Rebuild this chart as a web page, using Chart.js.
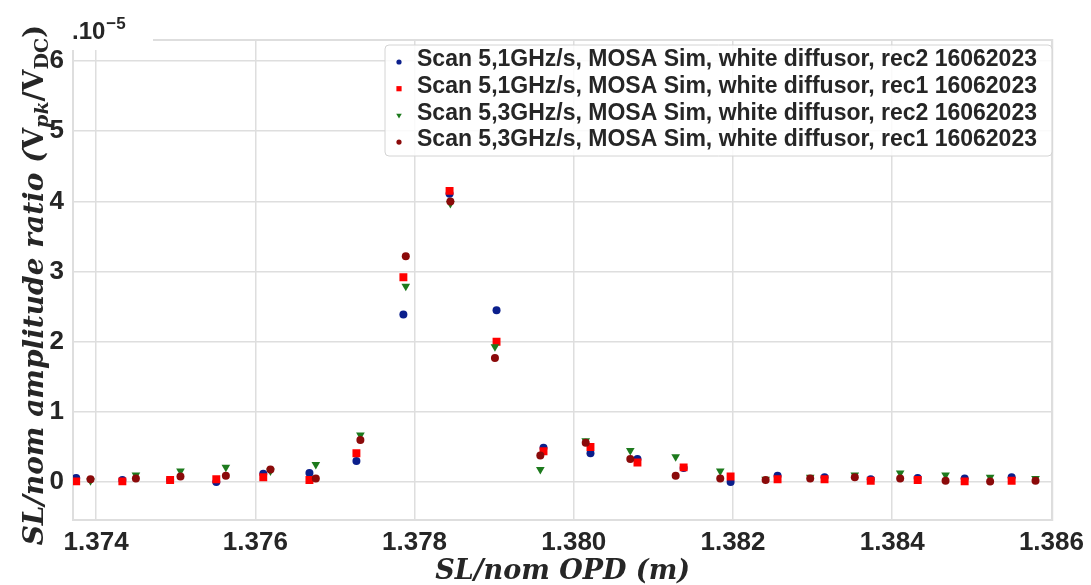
<!DOCTYPE html>
<html>
<head>
<meta charset="utf-8">
<script src="https://cdn.jsdelivr.net/npm/chart.js@4"></script>
<style>
  html, body { margin: 0; padding: 0; background: #fff; }
  canvas { display: block; }
</style>
</head>
<body>
<canvas id="chart" width="1091" height="585"></canvas>
<script>
// OPD positions (m) for the two scan speeds
const opd51 = [1.37375, 1.37433, 1.37493, 1.37551, 1.37610, 1.37668, 1.37727, 1.37786, 1.37844, 1.37903, 1.37962,
               1.38021, 1.38080, 1.38138, 1.38197, 1.38256, 1.38315, 1.38373, 1.38432, 1.38491, 1.38550];
const opd53 = [1.37393, 1.37450, 1.37506, 1.37563, 1.37619, 1.37676, 1.37732, 1.37789, 1.37845, 1.37901, 1.37958,
               1.38015, 1.38071, 1.38128, 1.38184, 1.38241, 1.38297, 1.38353, 1.38410, 1.38467, 1.38523, 1.38580];

// amplitude ratio, in units of 1e-5
const rec2_51 = [0.06, 0.03, 0.03, 0.00, 0.12, 0.13, 0.30, 2.39, 4.11, 2.45, 0.49,
                 0.41, 0.33, 0.20, 0.00, 0.09, 0.07, 0.04, 0.06, 0.05, 0.07];
const rec1_51 = [0.01, 0.01, 0.03, 0.04, 0.07, 0.03, 0.41, 2.92, 4.15, 2.00, 0.44,
                 0.50, 0.28, 0.21, 0.08, 0.04, 0.04, 0.02, 0.03, 0.01, 0.02];
const rec2_53 = [0.02, 0.10, 0.16, 0.21, 0.16, 0.25, 0.67, 2.79, 3.97, 1.93, 0.18,
                 0.59, 0.45, 0.36, 0.16, 0.04, 0.07, 0.10, 0.13, 0.10, 0.07, 0.05];
const rec1_53 = [0.04, 0.05, 0.08, 0.09, 0.18, 0.05, 0.60, 3.22, 4.00, 1.77, 0.38,
                 0.56, 0.33, 0.09, 0.05, 0.03, 0.05, 0.07, 0.05, 0.02, 0.01, 0.02];

const seriesLabels = [
  'Scan 5,1GHz/s, MOSA Sim, white diffusor, rec2 16062023',
  'Scan 5,1GHz/s, MOSA Sim, white diffusor, rec1 16062023',
  'Scan 5,3GHz/s, MOSA Sim, white diffusor, rec2 16062023',
  'Scan 5,3GHz/s, MOSA Sim, white diffusor, rec1 16062023'
];
const xTicks = [1.374, 1.376, 1.378, 1.380, 1.382, 1.384, 1.386];
const yTicks = [0, 1, 2, 3, 4, 5, 6];
const xTitle = 'SL/nom OPD (m)';
const yTitle = [['SL/nom amplitude ratio (', 'main', true], ['V', 'main', false], ['pk', 'sub', true],
                ['/V', 'main', false], ['DC', 'sub', false], [')', 'main', false]];
const scaleNote = ['.10', '\u22125'];

const textColor = '#262626';
const gridColor = '#dedede';

function toPoints(xs, ys) {
  return xs.map((x, i) => ({ x: x, y: ys[i] }));
}

const series = [
  { data: toPoints(opd51, rec2_51), color: '#0b1f8c', style: 'circle', radius: 4, rotation: 0, order: 4 },
  { data: toPoints(opd51, rec1_51), color: '#ff0000', style: 'rect', radius: 5.6, rotation: 0, order: 3 },
  { data: toPoints(opd53, rec2_53), color: '#1d7a1d', style: 'triangle', radius: 5, rotation: 180, order: 2 },
  { data: toPoints(opd53, rec1_53), color: '#8b0a0a', style: 'circle', radius: 4, rotation: 0, order: 1 }
];

function drawMarker(ctx, s, x, y, r) {
  ctx.fillStyle = s.color;
  ctx.beginPath();
  if (s.style === 'circle') {
    ctx.arc(x, y, r, 0, Math.PI * 2);
  } else if (s.style === 'rect') {
    ctx.rect(x - r, y - r, 2 * r, 2 * r);
  } else {
    ctx.moveTo(x, y + r);
    ctx.lineTo(x - r * 0.87, y - r * 0.5);
    ctx.lineTo(x + r * 0.87, y - r * 0.5);
    ctx.closePath();
  }
  ctx.fill();
}

const decor = {
  id: 'decor',
  beforeDraw(chart) {
    const ctx = chart.ctx;
    ctx.save();
    ctx.fillStyle = '#fff';
    ctx.fillRect(0, 0, chart.width, chart.height);
    ctx.restore();
  },
  beforeDatasetsDraw(chart) {
    const ctx = chart.ctx, a = chart.chartArea;
    ctx.save();
    ctx.strokeStyle = gridColor;
    ctx.lineWidth = 2;
    ctx.strokeRect(a.left, a.top, a.right - a.left, a.bottom - a.top);
    ctx.restore();
  },
  afterDraw(chart) {
    const ctx = chart.ctx, a = chart.chartArea;
    ctx.save();

    // white patch behind the exponent note
    ctx.fillStyle = '#fff';
    ctx.fillRect(0, 0, 153, 50);
    ctx.fillStyle = textColor;
    ctx.textBaseline = 'alphabetic';
    ctx.font = 'bold 24px "Liberation Sans"';
    ctx.fillText(scaleNote[0], 72, 39);
    const w0 = ctx.measureText(scaleNote[0]).width;
    ctx.font = 'bold 17px "Liberation Sans"';
    ctx.fillText(scaleNote[1], 72 + w0 + 1, 29);

    // legend
    const lx = 385, ly = 45, lw = 667, lh = 111;
    ctx.fillStyle = 'rgba(255,255,255,0.85)';
    ctx.strokeStyle = '#d4d4d4';
    ctx.lineWidth = 1;
    ctx.beginPath();
    ctx.roundRect(lx, ly, lw, lh, 4);
    ctx.fill();
    ctx.stroke();
    ctx.font = 'bold 23px "Liberation Sans"';
    ctx.textBaseline = 'middle';
    seriesLabels.forEach((lab, i) => {
      const yy = 60 + i * 26.7;
      drawMarker(ctx, series[i], 399, yy + 2, series[i].style === 'triangle' ? 3.2 : 2.6);
      ctx.fillStyle = textColor;
      ctx.fillText(lab, 417, yy);
    });

    // x axis title
    ctx.font = 'italic bold 27px "DejaVu Serif"';
    ctx.textAlign = 'center';
    ctx.textBaseline = 'middle';
    ctx.fillText(xTitle, (a.left + a.right) / 2, 572);

    // y axis title with subscripts
    const fonts = {
      main: (it) => (it ? 'italic ' : '') + 'bold 28px "DejaVu Serif"',
      sub: (it) => (it ? 'italic ' : '') + 'bold 19px "DejaVu Serif"'
    };
    let total = 0;
    const widths = yTitle.map(p => {
      ctx.font = fonts[p[1]](p[2]);
      const w = ctx.measureText(p[0]).width;
      total += w;
      return w;
    });
    ctx.translate(34, 285);
    ctx.rotate(-Math.PI / 2);
    ctx.textAlign = 'left';
    ctx.textBaseline = 'alphabetic';
    let pos = -total / 2;
    yTitle.forEach((p, i) => {
      ctx.font = fonts[p[1]](p[2]);
      ctx.fillText(p[0], pos, p[1] === 'sub' ? 14 : 9);
      pos += widths[i];
    });
    ctx.restore();
  }
};

new Chart(document.getElementById('chart'), {
  type: 'scatter',
  data: {
    datasets: series.map((s, i) => ({
      label: seriesLabels[i],
      data: s.data,
      backgroundColor: s.color,
      borderColor: s.color,
      borderWidth: 0,
      pointStyle: s.style,
      pointRadius: s.radius,
      pointRotation: s.rotation,
      order: s.order
    }))
  },
  options: {
    responsive: false,
    animation: false,
    events: [],
    layout: { padding: { top: 40, right: 34, left: 0, bottom: 0 } },
    plugins: { legend: { display: false }, tooltip: { enabled: false } },
    scales: {
      x: {
        type: 'linear',
        min: 1.37371,
        max: 1.38601,
        afterBuildTicks: (scale) => { scale.ticks = xTicks.map(v => ({ value: v })); },
        afterFit: (scale) => { scale.height = 65; },
        border: { display: false },
        grid: { color: gridColor, lineWidth: 1.5, drawTicks: false },
        ticks: {
          color: textColor,
          padding: 7,
          maxRotation: 0,
          font: { family: 'Liberation Sans', size: 26, weight: 'bold' },
          callback: (v) => Number(v).toFixed(3)
        }
      },
      y: {
        type: 'linear',
        min: -0.54,
        max: 6.3,
        afterBuildTicks: (scale) => { scale.ticks = yTicks.map(v => ({ value: v })); },
        afterFit: (scale) => { scale.width = 73; },
        border: { display: false },
        grid: { color: gridColor, lineWidth: 1.5, drawTicks: false },
        ticks: {
          color: textColor,
          padding: 9,
          font: { family: 'Liberation Sans', size: 26, weight: 'bold' },
          callback: (v) => String(v)
        }
      }
    }
  },
  plugins: [decor]
});
</script>
</body>
</html>
